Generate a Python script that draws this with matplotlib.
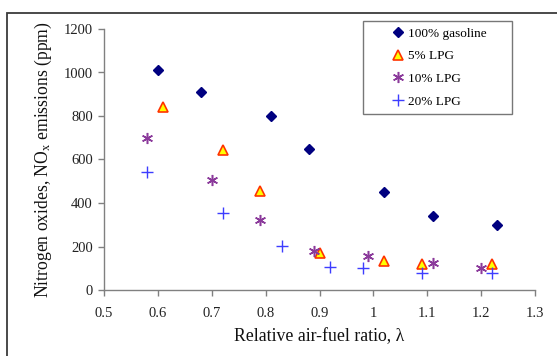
import matplotlib
matplotlib.use("Agg")
import matplotlib.pyplot as plt
from matplotlib.patches import Rectangle

plt.rcParams['font.family'] = ['Liberation Serif', 'DejaVu Serif']
plt.rcParams['mathtext.fontset'] = 'custom'
plt.rcParams['mathtext.rm'] = 'Liberation Serif'
plt.rcParams['mathtext.it'] = 'Liberation Serif:italic'

# Data
gas_x = [0.60, 0.68, 0.81, 0.88, 1.02, 1.11, 1.23]
gas_y = [1010, 910, 800, 648, 450, 340, 300]
lpg5_x = [0.61, 0.72, 0.79, 0.90, 1.02, 1.09, 1.22]
lpg5_y = [840, 645, 455, 172, 133, 120, 120]
lpg10_x = [0.58, 0.70, 0.79, 0.89, 0.99, 1.11, 1.20]
lpg10_y = [700, 505, 320, 180, 155, 122, 100]
lpg20_x = [0.58, 0.72, 0.83, 0.92, 0.98, 1.09, 1.22]
lpg20_y = [543, 355, 202, 108, 103, 76, 76]

labels = ['100% gasoline', '5% LPG', '10% LPG', '20% LPG']
x_ticks = [0.5, 0.6, 0.7, 0.8, 0.9, 1.0, 1.1, 1.2, 1.3]
x_ticklabels = ['0.5', '0.6', '0.7', '0.8', '0.9', '1', '1.1', '1.2', '1.3']
y_ticks = [0, 200, 400, 600, 800, 1000, 1200]

fig = plt.figure(figsize=(5.57, 3.56), dpi=100)
fig.patch.set_facecolor('white')
ax = fig.add_axes([104/557, 1-290/356, 431/557, 261/356])

# Outer frame
fig.patches.append(Rectangle((7/557, -0.2), 1.3, 1.2 - 13/356,
                             transform=fig.transFigure, fill=False,
                             edgecolor='#3a3a3a', linewidth=1.3))

ax.plot(gas_x, gas_y, linestyle='none', marker='D', markersize=5.5,
        color='#000080', label=labels[0])
ax.plot(lpg5_x, lpg5_y, linestyle='none', marker='^', markersize=7.5,
        markerfacecolor='#FFFF00', markeredgecolor='#FF3300', markeredgewidth=1.2,
        label=labels[1])
ax.plot(lpg10_x, lpg10_y, linestyle='none', marker=(6, 2, 0), markersize=8,
        markeredgewidth=1.1, color='#8B3A9B', label=labels[2])
ax.plot(lpg20_x, lpg20_y, linestyle='none', marker='+', markersize=8,
        markeredgewidth=1.0, color='#3D3DFF', label=labels[3])

ax.set_xlim(0.5, 1.3)
ax.set_ylim(0, 1200)
ax.set_xticks(x_ticks)
ax.set_xticklabels(x_ticklabels)
ax.set_yticks(y_ticks)

for s in ['top', 'right']:
    ax.spines[s].set_visible(False)
for s in ['left', 'bottom']:
    ax.spines[s].set_color('#808080')
    ax.spines[s].set_linewidth(1.0)
ax.tick_params(axis='both', colors='#808080', length=4, width=1.0,
               labelsize=10.5, labelcolor='#222222', direction='out')
ax.tick_params(axis='x', pad=8)
ax.tick_params(axis='y', pad=4)

ax.set_xlabel('Relative air-fuel ratio, λ', fontsize=12.8, labelpad=6, color='#111111')
ax.set_ylabel('Nitrogen oxides, NO$_\\mathrm{x}$ emissions (ppm)', fontsize=12.7,
              labelpad=7, color='#111111')

leg = ax.legend(loc='upper left', bbox_to_anchor=(0.601, 1.031, 0.3457, 0.0),
                mode='expand', frameon=True,
                fancybox=False, fontsize=9.5, handletextpad=-1.39,
                handlelength=4.3, borderpad=0.5, labelspacing=0.79,
                borderaxespad=0)
leg.get_frame().set_edgecolor('#555555')
leg.get_frame().set_linewidth(1.0)

fig.savefig('out.png', dpi=100)
